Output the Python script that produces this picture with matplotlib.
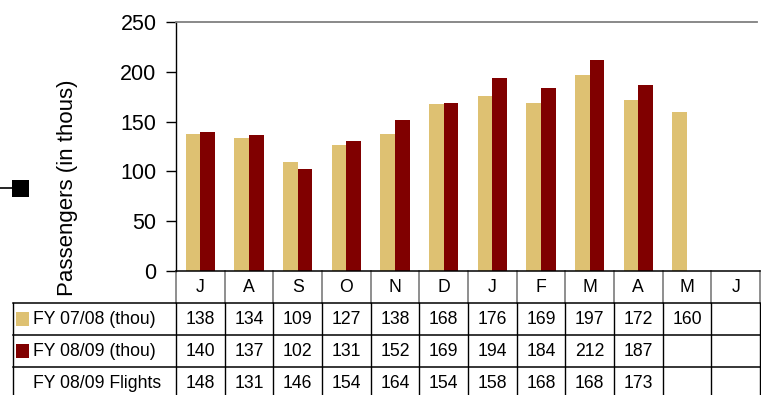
import matplotlib
matplotlib.use("Agg")
import matplotlib.pyplot as plt
from matplotlib.patches import Rectangle
from matplotlib.lines import Line2D
from matplotlib.transforms import blended_transform_factory

plt.rcParams['font.family'] = ['Liberation Sans', 'DejaVu Sans']

months = ["J", "A", "S", "O", "N", "D", "J", "F", "M", "A", "M", "J"]
fy0708 = [138, 134, 109, 127, 138, 168, 176, 169, 197, 172, 160, None]
fy0809 = [140, 137, 102, 131, 152, 169, 194, 184, 212, 187, None, None]
flights0809 = [148, 131, 146, 154, 164, 154, 158, 168, 168, 173, None, None]
row_labels = ["FY 07/08 (thou)", "FY 08/09 (thou)", "FY 08/09 Flights"]
yticks = [0, 50, 100, 150, 200, 250]

C_GOLD = "#DEC172"
C_RED = "#800000"
FS_TABLE = 12.7

W, H = 761, 395
fig = plt.figure(figsize=(W / 100, H / 100), dpi=100)

def fx(px):
    return px / W

def fy(py):
    return 1 - py / H

ax = fig.add_axes([fx(176), fy(271), fx(760) - fx(176), fy(22) - fy(271)])

n = len(months)
xs = list(range(n))
bw = 0.3
for i in xs:
    if fy0708[i] is not None:
        ax.bar(i - bw / 2, fy0708[i], width=bw, color=C_GOLD, edgecolor="none")
    if fy0809[i] is not None:
        ax.bar(i + bw / 2, fy0809[i], width=bw, color=C_RED, edgecolor="none")

ax.set_xlim(-0.5, n - 0.5)
ax.set_ylim(0, 250)
ax.set_yticks(yticks)
ax.set_yticklabels([str(t) for t in yticks], fontsize=15.5)
ax.tick_params(axis="y", direction="out", length=7, width=1, pad=7, colors="black")
ax.set_xticks([])
for s in ["right", "bottom"]:
    ax.spines[s].set_visible(False)
ax.spines["top"].set_color("#808080")
ax.spines["top"].set_linewidth(1.3)
ax.spines["left"].set_color("black")
ax.spines["left"].set_linewidth(1)
ax.spines["top"].set_bounds(-0.5, n - 0.5 - 0.06)

fig.text(fx(68), fy(188), "Passengers (in thous)", rotation=90, fontsize=16,
         ha="center", va="center")

# data table under the chart
tr = blended_transform_factory(ax.transData, fig.transFigure)
y_head_top, y_r1, y_r2, y_r3, y_bot = 271, 303, 335, 367, 400

# horizontal rules
fig.add_artist(Line2D([fx(176), fx(760)], [fy(y_head_top)] * 2, color="black", lw=1.1))
for yy in (y_r1, y_r2, y_r3):
    fig.add_artist(Line2D([fx(12.5), fx(760)], [fy(yy)] * 2, color="black", lw=1.1))

# vertical rules
for b in range(n + 1):
    xb = b - 0.5
    ax.add_line(Line2D([xb, xb], [fy(y_head_top), fy(y_r1)], color="#707070",
                       lw=1.1, transform=tr, clip_on=False))
    ax.add_line(Line2D([xb, xb], [fy(y_r1), fy(y_bot)], color="black",
                       lw=1.0, transform=tr, clip_on=False))
fig.add_artist(Line2D([fx(12.5), fx(12.5)], [fy(y_r1), fy(y_bot)], color="black", lw=1.0))

# month headers
for i, m in enumerate(months):
    ax.text(i, fy((y_head_top + y_r1) / 2), m, transform=tr, ha="center",
            va="center", fontsize=FS_TABLE)

rows = [fy0708, fy0809, flights0809]
row_tops = [y_r1, y_r2, y_r3]
for vals, top in zip(rows, row_tops):
    yc = fy(top + 16)
    for i, v in enumerate(vals):
        if v is not None:
            ax.text(i, yc, str(v), transform=tr, ha="center", va="center",
                    fontsize=FS_TABLE)

# row labels with swatches
swatches = [C_GOLD, C_RED, None]
for lab, sw, top in zip(row_labels, swatches, row_tops):
    yc = fy(top + 16)
    if sw is not None:
        fig.add_artist(Rectangle((fx(16), fy(top + 23)), fx(13), fy(top + 9) - fy(top + 23),
                                 facecolor=sw, edgecolor="none"))
    fig.text(fx(33), yc, lab, ha="left", va="center", fontsize=FS_TABLE)

# marker at the left edge
fig.add_artist(Line2D([0, fx(13)], [fy(188)] * 2, color="black", lw=1.2))
fig.add_artist(Rectangle((fx(12), fy(197)), fx(17), fy(180) - fy(197),
                         facecolor="black", edgecolor="none"))

fig.savefig("out.png", dpi=100)
